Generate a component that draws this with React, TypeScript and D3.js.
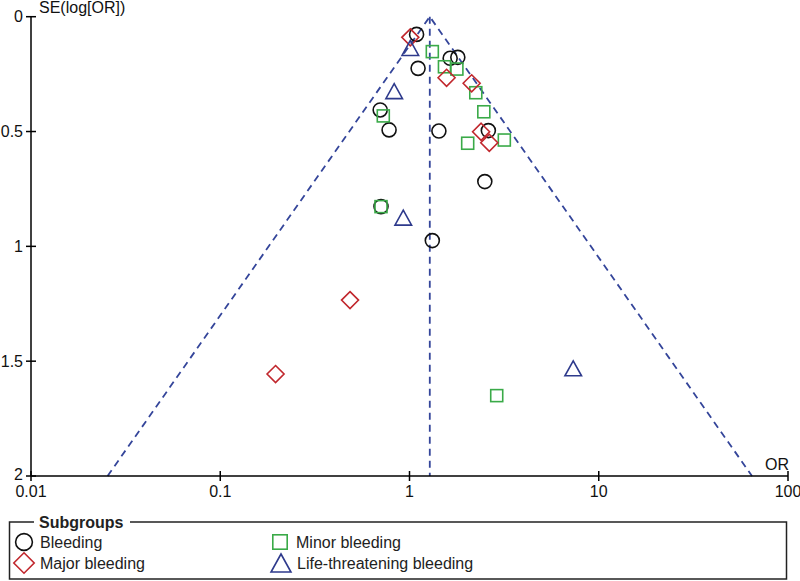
import React from "react";
import * as d3 from "d3";

const xTicks = [0.01, 0.1, 1, 10, 100];
const xTickLabels = ["0.01", "0.1", "1", "10", "100"];
const yTicks = [0, 0.5, 1, 1.5, 2];
const yTickLabels = ["0", "0.5", "1", "1.5", "2"];

const summaryOR = 1.28;

const bleedingOR = [1.09, 1.11, 1.64, 1.8, 0.7, 0.78, 1.43, 2.61, 2.5, 0.707, 1.32];
const bleedingSE = [0.077, 0.225, 0.181, 0.177, 0.406, 0.493, 0.498, 0.496, 0.718, 0.827, 0.975];

const majorOR = [1.01, 1.57, 2.13, 2.39, 2.64, 0.485, 0.196];
const majorSE = [0.09, 0.266, 0.29, 0.501, 0.549, 1.234, 1.556];

const minorOR = [1.32, 1.53, 1.78, 2.24, 0.727, 2.47, 2.03, 3.17, 0.707, 2.89];
const minorSE = [0.152, 0.218, 0.228, 0.331, 0.432, 0.414, 0.551, 0.537, 0.827, 1.65];

const lifeOR = [1.01, 0.83, 0.927, 7.33];
const lifeSE = [0.136, 0.324, 0.875, 1.531];

const legendLabels = ["Bleeding", "Major bleeding", "Minor bleeding", "Life-threatening bleeding"];

const C_BLACK = "#111111";
const C_RED = "#c1272d";
const C_GREEN = "#3aaa48";
const C_BLUE = "#2e3a8c";
const C_DASH = "#34459a";
const FONT = "'Liberation Sans', Arial, sans-serif";

function Marker({ kind, x, y, s = 1 }: { kind: string; x: number; y: number; s?: number }) {
  if (kind === "circle")
    return <circle cx={x} cy={y} r={7 * s} fill="none" stroke={C_BLACK} strokeWidth={1.6} />;
  if (kind === "diamond") {
    const h = 8.5 * s;
    return (
      <path
        d={`M${x},${y - h}L${x + h},${y}L${x},${y + h}L${x - h},${y}Z`}
        fill="none"
        stroke={C_RED}
        strokeWidth={1.6}
      />
    );
  }
  if (kind === "square") {
    const h = 6 * s;
    return <rect x={x - h} y={y - h} width={2 * h} height={2 * h} fill="none" stroke={C_GREEN} strokeWidth={1.6} />;
  }
  const w = 8.3 * s;
  const hh = 7.5 * s;
  return (
    <path
      d={`M${x},${y - hh}L${x + w},${y + hh}L${x - w},${y + hh}Z`}
      fill="none"
      stroke={C_BLUE}
      strokeWidth={1.6}
    />
  );
}

export default function App() {
  const W = 800;
  const H = 581;
  const x = d3.scaleLog().domain([0.01, 100]).range([31, 788]);
  const y = d3.scaleLinear().domain([0, 2]).range([16.7, 476]);
  const x0 = x(0.01);
  const y2 = y(2);

  const lo = summaryOR * Math.exp(-1.96 * 2);
  const hi = summaryOR * Math.exp(1.96 * 2);
  const funnel = d3.line<[number, number]>()([
    [x(lo), y(2)],
    [x(summaryOR), y(0)],
    [x(hi), y(2)],
  ]) as string;

  const groups = [
    { kind: "circle", or: bleedingOR, se: bleedingSE },
    { kind: "square", or: minorOR, se: minorSE },
    { kind: "diamond", or: majorOR, se: majorSE },
    { kind: "triangle", or: lifeOR, se: lifeSE },
  ];

  const legendItems = [
    { kind: "circle", label: legendLabels[0], lx: 24, ly: 542 },
    { kind: "diamond", label: legendLabels[1], lx: 24, ly: 563 },
    { kind: "square", label: legendLabels[2], lx: 280, ly: 542 },
    { kind: "triangle", label: legendLabels[3], lx: 281, ly: 563 },
  ];

  return (
    <div style={{ position: "absolute", left: 0, top: 0 }}>
      <svg width={W} height={H} style={{ display: "block", background: "#fff" }} fontFamily={FONT}>
        <rect width={W} height={H} fill="#fff" />
        {/* funnel */}
        <path d={funnel} fill="none" stroke={C_DASH} strokeWidth={1.8} strokeDasharray="7,5" />
        <line
          x1={x(summaryOR)}
          x2={x(summaryOR)}
          y1={y(0)}
          y2={y(2)}
          stroke={C_DASH}
          strokeWidth={1.8}
          strokeDasharray="7,5"
        />
        {/* axes */}
        <line x1={x0} x2={x0} y1={y(0)} y2={y2} stroke="#000" strokeWidth={1.5} />
        <line x1={x0} x2={x(100)} y1={y2} y2={y2} stroke="#000" strokeWidth={1.5} />
        {yTicks.map((t, i) => (
          <g key={"y" + i}>
            <line x1={x0 - 5} x2={x0 + 5} y1={y(t)} y2={y(t)} stroke="#000" strokeWidth={1.5} />
            <text x={x0 - 8} y={y(t) - (i === yTicks.length - 1 ? 2 : 0)} dy="0.35em" textAnchor="end" fontSize={16} fill="#111">
              {yTickLabels[i]}
            </text>
          </g>
        ))}
        {xTicks.map((t, i) => (
          <g key={"x" + i}>
            <line x1={x(t)} x2={x(t)} y1={y2 - 5} y2={y2 + 5} stroke="#000" strokeWidth={1.5} />
            <text x={x(t)} y={y2 + 21} textAnchor="middle" fontSize={16} fill="#111">
              {xTickLabels[i]}
            </text>
          </g>
        ))}
        <text x={39} y={13} fontSize={16} fill="#111">
          SE(log[OR])
        </text>
        <text x={789} y={y2 - 6} textAnchor="end" fontSize={16} fill="#111">
          OR
        </text>
        {/* points */}
        {groups.map((g, gi) =>
          g.or.map((v, i) => <Marker key={gi + "-" + i} kind={g.kind} x={x(v)} y={y(g.se[i])} />)
        )}
        {/* legend */}
        <rect x={9.5} y={522} width={777} height={57} fill="none" stroke="#222" strokeWidth={1.5} />
        <rect x={34} y={512} width={96} height={20} fill="#fff" />
        <text x={39} y={522} dy="0.35em" fontSize={16} fontWeight="bold" fill="#222">
          Subgroups
        </text>
        {legendItems.map((it, i) => (
          <g key={"l" + i}>
            <Marker kind={it.kind} x={it.lx} y={it.ly} s={1.2} />
            <text x={it.lx + 16} y={it.ly} dy="0.35em" fontSize={16} fill="#222">
              {it.label}
            </text>
          </g>
        ))}
      </svg>
    </div>
  );
}
